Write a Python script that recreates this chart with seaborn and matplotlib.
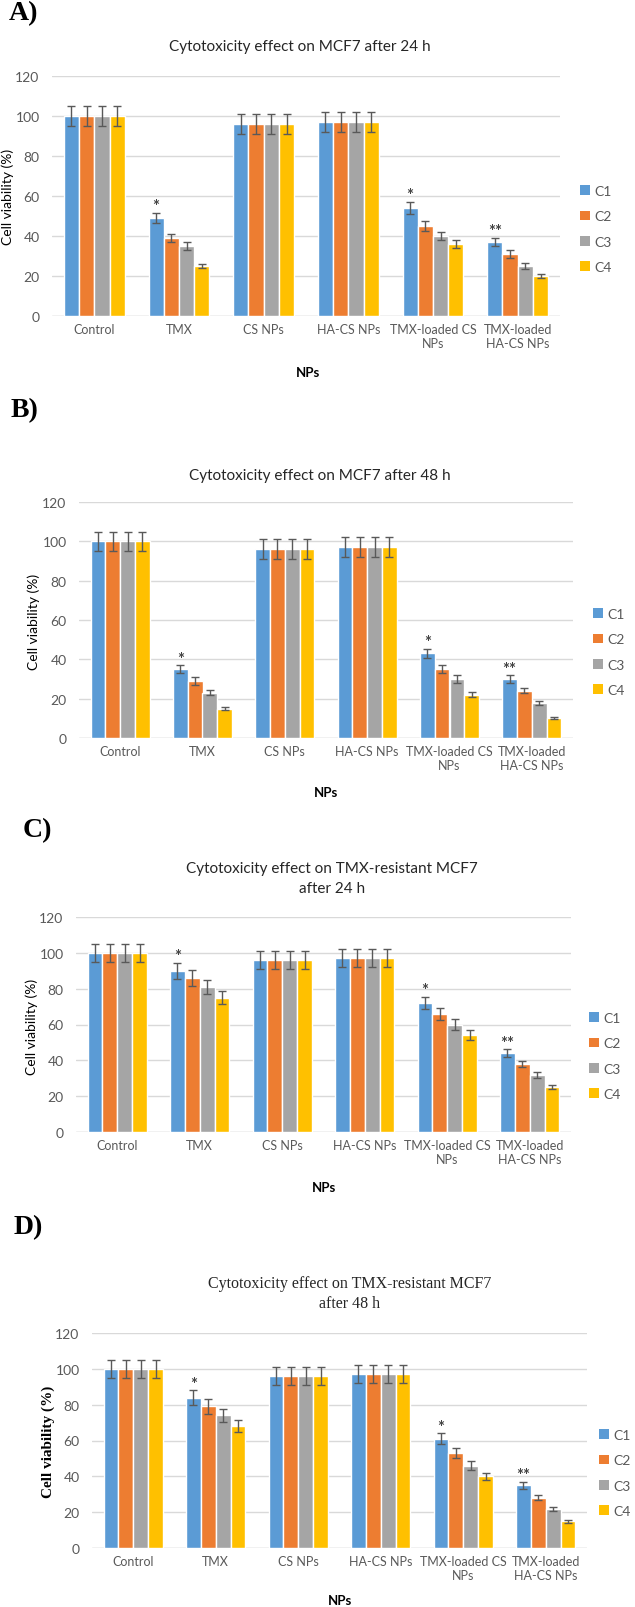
import numpy as np
import pandas as pd
import matplotlib
matplotlib.use("Agg")
import matplotlib.pyplot as plt
import seaborn as sns
from matplotlib.patches import Patch

# categories / series
groups = ["Control", "TMX", "CS NPs", "HA-CS NPs", "TMX-loaded CS\nNPs", "TMX-loaded\nHA-CS NPs"]
conc = ["C1", "C2", "C3", "C4"]
colors = ["#5B9BD5", "#ED7D31", "#A5A5A5", "#FFC000"]
stars = ["", "*", "", "", "*", "**"]

# values per group (C1..C4) and error bars
a_vals = [[100, 100, 100, 100], [49, 39, 35, 25], [96, 96, 96, 96], [97, 97, 97, 97], [54, 45, 40, 36], [37, 31, 25, 20]]
a_errs = [[5, 5, 5, 5], [2.5, 2, 1.8, 1.2], [5, 5, 5, 5], [5, 5, 5, 5], [3, 2.5, 2, 2], [2, 1.8, 1.3, 1]]

b_vals = [[100, 100, 100, 100], [35, 29, 23, 15], [96, 96, 96, 96], [97, 97, 97, 97], [43, 35, 30, 22], [30, 24, 18, 10]]
b_errs = [[5, 5, 5, 5], [2, 1.8, 1.2, 0.8], [5, 5, 5, 5], [5, 5, 5, 5], [2.5, 2, 1.8, 1.2], [1.8, 1.3, 1, 0.5]]

c_vals = [[100, 100, 100, 100], [90, 86, 81, 75], [96, 96, 96, 96], [97, 97, 97, 97], [72, 66, 60, 54], [44, 38, 32, 25]]
c_errs = [[5, 5, 5, 5], [4.5, 4.5, 4, 3.8], [5, 5, 5, 5], [5, 5, 5, 5], [3.5, 3.3, 3, 2.8], [2.2, 1.9, 1.6, 1.2]]

d_vals = [[100, 100, 100, 100], [84, 79, 74, 68], [96, 96, 96, 96], [97, 97, 97, 97], [61, 53, 46, 40], [35, 28, 22, 15]]
d_errs = [[5, 5, 5, 5], [4, 4, 3.7, 3.4], [5, 5, 5, 5], [5, 5, 5, 5], [3, 2.7, 2.3, 2], [1.8, 1.4, 1.1, 0.8]]

titles = ["Cytotoxicity effect on MCF7 after 24 h",
          "Cytotoxicity effect on MCF7 after 48 h",
          "Cytotoxicity effect on TMX-resistant MCF7\nafter 24 h",
          "Cytotoxicity effect on TMX-resistant MCF7\nafter 48 h"]
letters = ["A)", "B)", "C)", "D)"]

sns.set_theme(style="white")
plt.rcParams['font.family'] = ['Lato', 'DejaVu Sans']

W, H = 635, 1608
fig = plt.figure(figsize=(W / 100, H / 100), dpi=100)

# layout in pixels: left, right, top(120), bottom(0)
boxes = [(52, 560, 77, 317), (79, 573, 503, 739), (76, 571, 918, 1133), (92, 587, 1334, 1549)]
title_pos = [(300, 47), (320, 476), (332, 879), (350, 1294)]
letter_pos = [(9, 14), (11, 411), (23, 831), (14, 1228)]
ylab_pos = [(8, 197), (34, 622), (32, 1027), (48, 1442)]
nps_pos = [(308, 373), (326, 793), (324, 1188), (340, 1601)]
leg_pos = [(580, 230), (593, 653), (589, 1057), (599, 1474)]

grey = "#595959"
serif = ['Liberation Serif', 'DejaVu Serif']


def fx(x):
    return x / W


def fy(y):
    return 1 - y / H


panels = [(a_vals, a_errs), (b_vals, b_errs), (c_vals, c_errs), (d_vals, d_errs)]

for i, (vals, errs) in enumerate(panels):
    l, r, t, b = boxes[i]
    ax = fig.add_axes([fx(l), fy(b), fx(r) - fx(l), fy(t) - fy(b)])

    rows = []
    for g, v in zip(groups, vals):
        for c, val in zip(conc, v):
            rows.append({"group": g, "conc": c, "value": val})
    df = pd.DataFrame(rows)

    sns.barplot(data=df, x="group", y="value", hue="conc", order=groups, hue_order=conc,
                palette=colors, width=0.72, errorbar=None, saturation=1, ax=ax, legend=False)

    err_arr = np.array(errs)
    bar_conts = list(ax.containers)
    for k, cont in enumerate(bar_conts):
        xs = [p.get_x() + p.get_width() / 2 for p in cont]
        hs = [p.get_height() for p in cont]
        ax.errorbar(xs, hs, yerr=err_arr[:, k], fmt='none', ecolor=grey, elinewidth=1,
                    capsize=3, capthick=1, zorder=3)
        if k == 0:
            # significance marks over C1
            for j, p in enumerate(cont):
                if stars[j]:
                    ax.annotate(stars[j], (xs[j], hs[j] + err_arr[j, 0]), xytext=(0, -1),
                                textcoords='offset points', ha='center', va='bottom',
                                fontsize=12, color="#404040", fontweight='bold')

    ax.set_ylim(0, 120)
    ax.set_yticks(range(0, 121, 20))
    ax.set_xlim(-0.5, 5.5)
    ax.grid(axis='y', color='#D9D9D9', linewidth=1)
    ax.set_axisbelow(True)
    for s in ax.spines.values():
        s.set_visible(False)
    ax.axhline(0, color='#D9D9D9', linewidth=1, zorder=0)
    ax.tick_params(axis='x', length=0, labelsize=9, colors=grey, pad=5)
    ax.tick_params(axis='y', length=0, labelsize=10, colors=grey, pad=9)
    ax.set_xlabel("")
    ax.set_ylabel("")

    # title
    tx, ty = title_pos[i]
    if i == 3:
        fig.text(fx(tx), fy(ty), titles[i], ha='center', va='center', fontsize=11.5,
                 family=serif, color='#262626', linespacing=1.3)
    else:
        fig.text(fx(tx), fy(ty), titles[i], ha='center', va='center', fontsize=11,
                 color='#262626', linespacing=1.5)

    lx, ly = letter_pos[i]
    fig.text(fx(lx), fy(ly), letters[i], ha='left', va='center', fontsize=20,
             fontweight='bold', family=serif, color='black')

    yx, yy = ylab_pos[i]
    if i == 3:
        fig.text(fx(yx), fy(yy), "Cell viability (%)", rotation=90, ha='center', va='center',
                 fontsize=11, fontweight='bold', family=serif, color='black')
    else:
        fig.text(fx(yx), fy(yy), "Cell viability (%)", rotation=90, ha='center', va='center',
                 fontsize=10, color='black')

    nx, ny = nps_pos[i]
    fig.text(fx(nx), fy(ny), "NPs", ha='center', va='center', fontsize=9.5,
             fontweight='bold', color='black')

    handles = [Patch(facecolor=c, edgecolor='none', label=n) for c, n in zip(colors, conc)]
    gx, gy = leg_pos[i]
    leg = fig.legend(handles=handles, loc='center left', bbox_to_anchor=(fx(gx), fy(gy)),
                     frameon=False, fontsize=10, handlelength=0.7, handleheight=0.7,
                     handletextpad=0.3, labelspacing=0.95, borderaxespad=0, borderpad=0)
    for txt in leg.get_texts():
        txt.set_color(grey)

fig.savefig("out.png", dpi=100)
